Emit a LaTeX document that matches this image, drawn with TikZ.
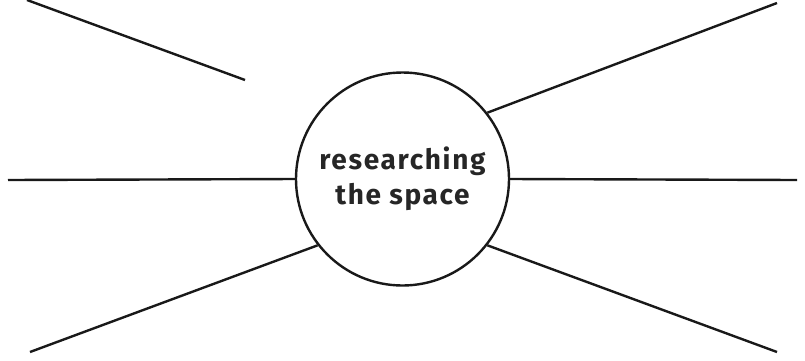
\documentclass[tikz,border=0pt]{standalone}
\usepackage{fontspec}
\setmainfont{Fira Sans}
\newfontfamily\hubfont[LetterSpace=6]{Fira Sans}
\begin{document}
\begin{tikzpicture}[x=1pt,y=-1pt,
  spoke/.style={line width=2.4pt,draw={black!90}},
  hub/.style={circle,draw={black!90},line width=2.4pt,minimum size=213pt,inner sep=0pt,
    align=center,font=\hubfont\fontsize{28}{35}\selectfont\bfseries,text={black!85}}]
\useasboundingbox (0,0) rectangle (805,360);
\node[hub] (c) at (402.5,179) {researching\\the space};
\coordinate (tl1) at (27,0);
\coordinate (tl2) at (245,80);
\coordinate (tr) at (777,3);
\coordinate (l) at (8,180);
\coordinate (r) at (797,180);
\coordinate (bl) at (30,352);
\coordinate (br) at (777,352);
\draw[spoke] (tl1) -- (tl2);
\draw[spoke] (c.38) -- (tr);
\draw[spoke] (c.west) -- (l);
\draw[spoke] (c.east) -- (r);
\draw[spoke] (c.218) -- (bl);
\draw[spoke] (c.-38) -- (br);
\end{tikzpicture}
\end{document}
